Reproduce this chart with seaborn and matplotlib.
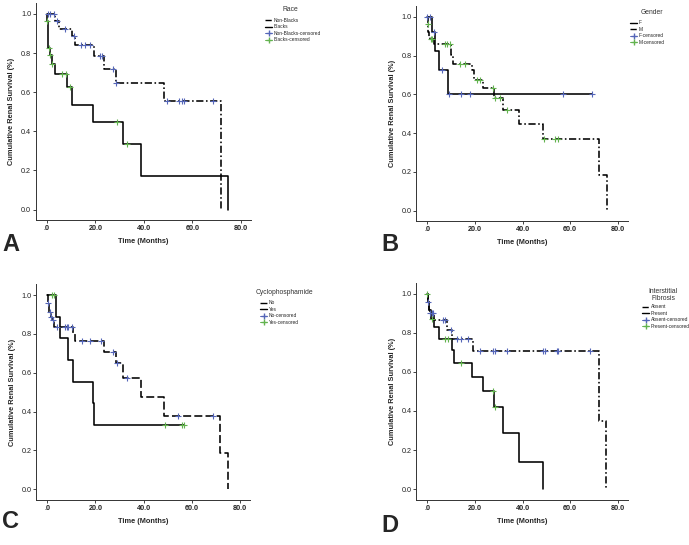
import numpy as np
import matplotlib.pyplot as plt
from matplotlib.lines import Line2D
import seaborn as sns

sns.set_style('ticks')
plt.rcParams['font.family'] = ['Liberation Sans', 'DejaVu Sans']

W, H = 689, 545
BLUE = '#5566b8'
GREEN = '#63b34f'
DASHDOT = (0, (4.5, 1.6, 1.0, 1.6))
DASHED = (0, (5, 2))

# ---------------- data: event times (months) / survival after event ----------------
# Panel A - Race
nb_t = [3.2, 5.0, 10.5, 11.5, 19.4, 23.5, 28.4, 48.4, 71.8]
nb_s = [0.966, 0.925, 0.885, 0.842, 0.783, 0.717, 0.647, 0.556, 0.0]
nb_cens = [0.4, 1.4, 2.8, 4.0, 7.3, 11.1, 14.0, 15.6, 17.7, 21.9, 22.6, 27.1, 28.6,
           49.5, 54.7, 55.8, 56.7, 68.6]
nb_end = 71.8
bl_t = [0.1, 0.4, 1.1, 1.9, 3.2, 8.4, 10.5, 18.8, 31.3, 38.8, 74.9]
bl_s = [0.963, 0.827, 0.788, 0.746, 0.695, 0.627, 0.536, 0.446, 0.334, 0.169, 0.0]
bl_cens = [0.2, 0.7, 1.4, 2.2, 6.2, 8.0, 9.4, 29.1, 33.2]
bl_end = 74.9

# Panel B - Gender
f_t = [2.1, 3.1, 4.8, 8.7]
f_s = [0.919, 0.825, 0.723, 0.600]
f_cens = [0.0, 1.1, 2.8, 6.0, 9.0, 14.0, 17.9, 57.2, 69.4]
f_end = 69.4
m_t = [0.15, 0.4, 0.9, 1.2, 2.9, 10.0, 11.0, 18.6, 19.5, 23.5, 28.0, 31.7, 38.7, 48.5, 72.0, 75.4]
m_s = [0.96, 0.92, 0.895, 0.883, 0.857, 0.802, 0.756, 0.725, 0.674, 0.631, 0.579, 0.519,
       0.445, 0.368, 0.186, 0.0]
m_cens = [0.3, 1.4, 1.9, 7.4, 8.4, 9.5, 13.7, 15.8, 20.7, 22.1, 27.7, 28.4, 30.5, 33.3,
          49.0, 53.8, 55.1]
m_end = 75.4

# Panel C - Cyclophosphamide
no_t = [0.2, 0.6, 1.4, 2.0, 2.8, 10.8, 11.5, 23.5, 28.4, 31.3, 38.8, 48.4, 71.8, 74.9]
no_s = [0.957, 0.914, 0.888, 0.871, 0.837, 0.803, 0.763, 0.708, 0.648, 0.571, 0.473,
        0.377, 0.189, 0.0]
no_cens = [0.4, 1.0, 1.7, 2.4, 3.9, 7.3, 8.0, 8.7, 10.1, 14.3, 17.7, 22.1, 27.4, 29.1,
           33.2, 54.4, 68.6]
no_end = 74.9
yes_t = [3.6, 5.3, 8.4, 10.5, 18.8, 19.4]
yes_s = [0.885, 0.777, 0.666, 0.551, 0.443, 0.331]
yes_cens = [1.8, 2.8, 48.9, 55.8, 56.7]
yes_end = 56.7

# Panel D - Interstitial fibrosis
ab_t = [0.2, 0.6, 1.0, 2.9, 8.4, 10.4, 19.3, 72.0, 75.1]
ab_s = [0.957, 0.915, 0.898, 0.864, 0.813, 0.770, 0.706, 0.350, 0.0]
ab_cens = [0.4, 1.1, 1.8, 2.5, 6.7, 7.4, 9.8, 12.6, 14.0, 17.2, 22.1, 27.7, 28.4, 33.3,
           48.8, 49.5, 54.4, 55.1, 68.4]
ab_end = 75.1
pr_t = [0.2, 0.6, 1.7, 2.9, 4.8, 10.2, 11.2, 18.6, 23.5, 28.0, 31.7, 38.7, 48.5]
pr_s = [0.957, 0.915, 0.872, 0.827, 0.770, 0.711, 0.643, 0.571, 0.502, 0.422, 0.286,
        0.141, 0.0]
pr_cens = [0.0, 2.1, 7.4, 8.8, 14.0, 27.7, 28.4]
pr_end = 48.5

x_ticks = [0, 20, 40, 60, 80]
x_ticklabels = ['.0', '20.0', '40.0', '60.0', '80.0']
y_ticks = [0.0, 0.2, 0.4, 0.6, 0.8, 1.0]
y_ticklabels = ['0.0', '0.2', '0.4', '0.6', '0.8', '1.0']

XLIM = (-4.6, 84.3)
YLIM = (-0.055, 1.055)


def km_xy(t, s, end):
    x = [0.0] + list(t)
    y = [1.0] + list(s)
    if end > x[-1]:
        x.append(end)
        y.append(y[-1])
    return np.array(x), np.array(y)


def cens_y(t, s, ct):
    x = np.array([0.0] + list(t))
    y = np.array([1.0] + list(s))
    idx = np.searchsorted(x, np.array(ct), side='right') - 1
    return y[idx]


def make_axes(fig, x0, x80, y0, y1):
    sx = (x80 - x0) / 80.0
    sy = (y0 - y1)
    left = x0 + XLIM[0] * sx
    right = x0 + XLIM[1] * sx
    bottom = y0 - YLIM[0] * sy
    top = y1 - (YLIM[1] - 1) * sy
    return fig.add_axes([left / W, 1 - bottom / H, (right - left) / W, (bottom - top) / H])


def draw_panel(fig, geom, groups, title, title_xy, legend_xy, letter, letter_xy):
    ax = make_axes(fig, *geom)
    handles = []
    for name, t, s, end, ls, cens, ccol in groups:
        x, y = km_xy(t, s, end)
        sns.lineplot(x=x, y=y, ax=ax, color='black', linewidth=1.15, linestyle=ls,
                     drawstyle='steps-post', estimator=None, sort=False)
        handles.append(Line2D([], [], color='black', lw=1.0, linestyle=ls, label=name))
    for name, t, s, end, ls, cens, ccol in groups:
        sns.scatterplot(x=cens, y=cens_y(t, s, cens), ax=ax, marker='+', s=18,
                        color=ccol, linewidth=0.8, zorder=5)
        handles.append(Line2D([], [], color=ccol, lw=0.7, marker='+', markersize=4,
                              label=name + '-censored'))
    ax.set_xlim(XLIM)
    ax.set_ylim(YLIM)
    ax.set_xticks(x_ticks)
    ax.set_xticklabels(x_ticklabels, fontweight='bold')
    ax.set_yticks(y_ticks)
    ax.set_yticklabels(y_ticklabels)
    ax.tick_params(axis='both', length=2.2, width=0.6, labelsize=5.2, pad=1.2,
                   colors='#222222')
    for sp in ['top', 'right']:
        ax.spines[sp].set_visible(False)
    for sp in ['left', 'bottom']:
        ax.spines[sp].set_linewidth(0.7)
        ax.spines[sp].set_color('#333333')
    ax.set_xlabel('Time (Months)', fontsize=5.3, fontweight='bold', labelpad=4.5)
    ax.set_ylabel('Cumulative Renal Survival (%)', fontsize=5.3, fontweight='bold',
                  labelpad=4)
    ax.legend(handles=handles, loc='upper left',
              bbox_to_anchor=(legend_xy[0] / W, 1 - legend_xy[1] / H),
              bbox_transform=fig.transFigure, frameon=False, fontsize=3.5,
              borderpad=0, handlelength=1.5, handletextpad=0.3,
              labelspacing=0.3, borderaxespad=0)
    fig.text(title_xy[0] / W, 1 - title_xy[1] / H, title, fontsize=4.9,
             color='#333333', ha='center', va='center', linespacing=1.0)
    fig.text(letter_xy[0] / W, 1 - letter_xy[1] / H, letter, fontsize=17,
             fontweight='bold', va='baseline', ha='left')
    return ax


fig = plt.figure(figsize=(W / 100, H / 100), dpi=100)
fig.patch.set_facecolor('white')

draw_panel(fig, (47.0, 240.7, 209.5, 14.0),
           [('Non-Blacks', nb_t, nb_s, nb_end, DASHDOT, nb_cens, BLUE),
            ('Blacks', bl_t, bl_s, bl_end, '-', bl_cens, GREEN)],
           'Race', (290, 9.5), (265, 18), 'A', (2, 251))

draw_panel(fig, (427.3, 617.7, 210.7, 16.7),
           [('F', f_t, f_s, f_end, '-', f_cens, BLUE),
            ('M', m_t, m_s, m_end, DASHDOT, m_cens, GREEN)],
           'Gender', (652, 13), (630, 20.3), 'B', (381, 251))

draw_panel(fig, (47.3, 240.0, 489.3, 295.0),
           [('No', no_t, no_s, no_end, DASHED, no_cens, BLUE),
            ('Yes', yes_t, yes_s, yes_end, '-', yes_cens, GREEN)],
           'Cyclophosphamide', (284, 292.7), (260, 300.3), 'C', (2, 528))

draw_panel(fig, (427.3, 617.7, 489.3, 293.5),
           [('Absent', ab_t, ab_s, ab_end, DASHDOT, ab_cens, BLUE),
            ('Present', pr_t, pr_s, pr_end, '-', pr_cens, GREEN)],
           'Interstitial\nFibrosis', (663, 295), (642, 304.3), 'D', (381, 532))

fig.savefig('out.png', dpi=100, facecolor='white')
